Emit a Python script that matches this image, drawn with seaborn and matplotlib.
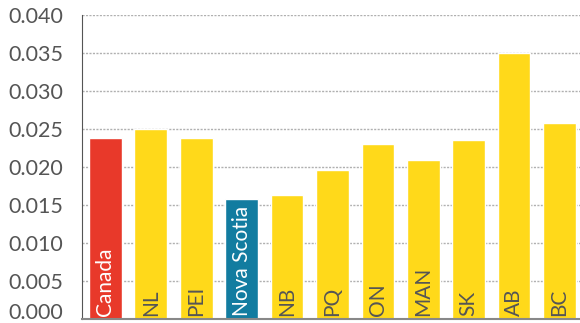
import seaborn as sns
import matplotlib.pyplot as plt
import matplotlib.transforms as mtransforms

# Chart values
regions = ["Canada", "NL", "PEI", "Nova Scotia", "NB", "PQ", "ON", "MAN", "SK", "AB", "BC"]
values = [0.0238, 0.0250, 0.0238, 0.0158, 0.0163, 0.0196, 0.0230, 0.0209, 0.0236, 0.0350, 0.0258]
yticks = [0.000, 0.005, 0.010, 0.015, 0.020, 0.025, 0.030, 0.035, 0.040]

red = "#E8392A"
yellow = "#FFD91A"
blue = "#127CA0"
colors = [red if r == "Canada" else blue if r == "Nova Scotia" else yellow for r in regions]
label_colors = ["white" if c in (red, blue) else "#555555" for c in colors]

sns.set_style("white")
plt.rcParams['font.family'] = ['Lato', 'DejaVu Sans']

fig = plt.figure(figsize=(5.8, 3.23), dpi=100)
ax = fig.add_axes([0.141, 0.012, 0.859, 0.942])

sns.barplot(x=regions, y=values, hue=regions, palette=colors, legend=False,
            width=0.72, saturation=1, ax=ax, zorder=2)

# Labels inside bars, rotated
for i, (name, c) in enumerate(zip(regions, label_colors)):
    ax.text(i, 0.0004, name, rotation=90, ha="center", va="bottom",
            color=c, fontsize=15, zorder=3)

ax.set_ylim(0, 0.040)
ax.set_xlim(-0.52, 10.45)
ax.set_yticks(yticks)
ax.set_yticklabels([f"{t:.3f}" for t in yticks], fontsize=15.5, color="#555555")
ax.set_xticks([])
ax.set_xlabel("")
ax.set_ylabel("")
ax.tick_params(axis="y", length=0, pad=13.5)

# nudge the bottom label up so it stays inside the figure
bottom_lbl = ax.get_yticklabels()[0]
bottom_lbl.set_transform(bottom_lbl.get_transform() +
                         mtransforms.ScaledTranslation(0, 6 / 72, fig.dpi_scale_trans))

ax.grid(axis="y", color="#b0b0b0", linestyle=(0, (1.5, 1)), linewidth=1, zorder=0)
ax.set_axisbelow(True)

ax.spines['top'].set_visible(False)
ax.spines['right'].set_visible(False)
ax.spines['left'].set_color("#555555")
ax.spines['bottom'].set_color("#888888")
ax.spines['bottom'].set_linewidth(1.5)

plt.savefig("out.png", dpi=100)
